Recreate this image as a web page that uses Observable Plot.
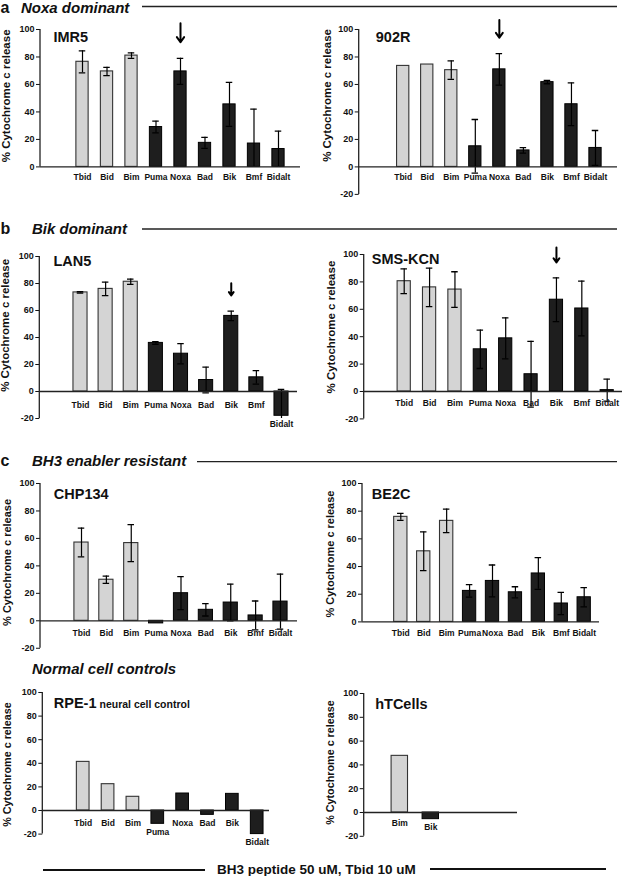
<!DOCTYPE html>
<html><head><meta charset="utf-8">
<script src="https://cdn.jsdelivr.net/npm/d3@7"></script>
<script src="https://cdn.jsdelivr.net/npm/@observablehq/plot@0.6"></script>
<style>
body{margin:0;background:#fff;}
#fig{position:relative;width:624px;height:876px;overflow:hidden;font-family:"Liberation Sans",Arial,sans-serif;color:#111;background:#fff;}
.panel{position:absolute;width:312px;}
#overlay{position:absolute;left:0;top:0;}
</style></head><body><div id="fig"></div>
<script>
// ---------------- data ----------------
const peptides = ["Tbid","Bid","Bim","Puma","Noxa","Bad","Bik","Bmf","Bidalt"];
const rpePeptides = ["Tbid","Bid","Bim","Puma","Noxa","Bad","Bik","Bidalt"];
const htPeptides = ["Bim","Bik"];
const lightPeptides = ["Tbid","Bid","Bim"];

const imr5Values = [76.5, 69.5, 81, 29, 69.5, 17.5, 45.5, 17, 13];
const imr5Errors = [8, 3, 2, 4.3, 9.5, 4, 16, 25, 13];
const r902Values = [73.5, 74.5, 70.4, 15, 71, 12, 61.7, 45.6, 13.8];
const r902Errors = [null, null, 6.7, 19.5, 11.5, 2, 1.2, 15.5, 12.7];
const lan5Values = [73.4, 76, 81.3, 36, 28, 8.5, 56, 10.5, -18];
const lan5Errors = [0.5, 5, 2, 1, 7.5, 9.5, 3.5, 5, 19.5];
const smsValues = [80.5, 76, 74.4, 30.8, 38.8, 12.6, 67, 60.6, 1];
const smsErrors = [9, 14, 13, 14, 15, 24, 16, 20, 8];
const chpValues = [57, 29.9, 56.6, -1.9, 20.1, 8, 13.3, 3.9, 14];
const chpErrors = [10.5, 2.7, 13.5, null, 12, 4.5, 13.4, 10.5, 20];
const be2cValues = [75.9, 51, 73, 22.4, 29.6, 21.4, 35, 13.3, 17.8];
const be2cErrors = [2.5, 14, 8.5, 4.5, 11.5, 4, 11.5, 8, 7];
const rpeValues = [41.2, 22.3, 11.6, -11.3, 14.4, -3.7, 14.1, -20];
const htValues = [47.6, -5.6];

const yTicks = [-20, 0, 20, 40, 60, 80, 100];
const yLabel = "% Cytochrome c release";

const sectionLetters = ["a", "b", "c", ""];
const sectionLabels = ["Noxa dominant", "Bik dominant", "BH3 enabler resistant", "Normal cell controls"];
const caption = "BH3 peptide 50 uM, Tbid 10 uM";

const panels = [
  {title: "IMR5", cats: peptides, values: imr5Values, errors: imr5Errors, arrow: "Noxa"},
  {title: "902R", cats: peptides, values: r902Values, errors: r902Errors, arrow: "Noxa"},
  {title: "LAN5", cats: peptides, values: lan5Values, errors: lan5Errors, arrow: "Bik"},
  {title: "SMS-KCN", cats: peptides, values: smsValues, errors: smsErrors, arrow: "Bik"},
  {title: "CHP134", cats: peptides, values: chpValues, errors: chpErrors, arrow: null},
  {title: "BE2C", cats: peptides, values: be2cValues, errors: be2cErrors, arrow: null},
  {title: "RPE-1", subtitle: "neural cell control", cats: rpePeptides, values: rpeValues, errors: null, arrow: null},
  {title: "hTCells", cats: htPeptides, values: htValues, errors: null, arrow: null}
];

// ---------------- layout (page pixels) ----------------
const layouts = [
  {left:0,   axisX:40,    axisEnd:300, y100:29.3,  y0:166.7, yMin:0,   c1:82,    cN:278,   frac:.5,  titleDx:13,   titleDy:8,   labelX:6,     labelAt:51.7, labelSize:11.5, tickDy:10,   arrowY:[104.5, 90.7]},
  {left:312, axisX:358.7, axisEnd:617, y100:29.3,  y0:166.7, yMin:-20, c1:402.7, cN:595,   frac:.51, titleDx:16.6, titleDy:8,   labelX:327,   labelAt:52,   labelSize:11.5, tickDy:10,   arrowY:[107, 94]},
  {left:0,   axisX:39.3,  axisEnd:297, y100:256,   y0:391,   yMin:-20, c1:80,    cN:281,   frac:.56, titleDx:13.7, titleDy:4.5, labelX:5,     labelAt:49,   labelSize:11.5, tickDy:13.5, arrowY:[80.2, 71.1]},
  {left:312, axisX:363.7, axisEnd:622, y100:254,   y0:391,   yMin:-20, c1:403.7, cN:606.7, frac:.52, titleDx:7.6,  titleDy:4.8, labelX:331,   labelAt:47,   labelSize:11.5, tickDy:11.7, arrowY:[105.1, 94.2]},
  {left:0,   axisX:40,    axisEnd:297, y100:482.7, y0:620,   yMin:-20, c1:81,    cN:280,   frac:.57, titleDx:13.3, titleDy:11,  labelX:6.7,   labelAt:42.5, labelSize:11,   tickDy:12.7},
  {left:312, axisX:362,   axisEnd:599, y100:483.3, y0:621.7, yMin:0,   c1:400.3, cN:583.7, frac:.58, titleDx:9.3,  titleDy:11,  labelX:330.3, labelAt:49,   labelSize:11,   tickDy:11},
  {left:0,   axisX:42.3,  axisEnd:269, y100:692.3, y0:810.3, yMin:-20, c1:82.7,  cN:256.7, frac:.51, titleDx:11,   titleDy:10.8, subDx:56.7, subDy:12, labelX:6.7, labelAt:39, labelSize:10.8, tickDy:12.4},
  {left:312, axisX:363.7, axisEnd:517, y100:693.3, y0:812.3, yMin:-20, c1:399.3, cN:430.3, frac:.53, titleDx:11,   titleDy:10.5, labelX:330.3, labelAt:42,  labelSize:10.8, tickDy:10.4}
];
const sectionLayouts = [
  {baseline:13,    textX:21, lineX:[142, 617], lineY:6.5},
  {baseline:234,   textX:32, lineX:[142, 617], lineY:229},
  {baseline:465.5, textX:32, lineX:[197, 617], lineY:461.7},
  {baseline:674,   textX:32, lineX:null}
];

const fig = document.getElementById("fig");
const MT = 24, MB = 24, W = 312;

function drawPanel(p, L) {
  const n = p.cats.length;
  const step = (L.cN - L.c1) / (n - 1);
  const px = (L.y0 - L.y100) / 100;
  const plotH = (100 - L.yMin) * px;
  const height = MT + plotH + MB;
  const ml = L.axisX - L.left;
  const mr = W - (L.axisEnd - L.left);
  const rows = p.cats.map((c, i) => ({cat: c, value: p.values[i], err: p.errors ? p.errors[i] : null, light: lightPeptides.includes(c)}));
  const withErr = rows.filter(d => d.err != null);
  const capInset = Math.max(0, (L.frac * step - 6.5) / 2);
  const pad = 1 - L.frac;
  const marks = [
    Plot.barY(rows.filter(d => d.light), {x: "cat", y: "value", fill: "#d4d4d4", stroke: "#333", strokeWidth: 1.1}),
    Plot.barY(rows.filter(d => !d.light), {x: "cat", y: "value", fill: "#1e1e1e", stroke: "#000", strokeWidth: 1}),
    Plot.ruleX(withErr, {x: "cat", y1: d => d.value - d.err, y2: d => d.value + d.err, stroke: "#000", strokeWidth: 1.2, clip: true}),
    Plot.tickY(withErr, {x: "cat", y: d => d.value + d.err, stroke: "#000", strokeWidth: 1.3, insetLeft: capInset, insetRight: capInset, clip: true}),
    Plot.tickY(withErr, {x: "cat", y: d => d.value - d.err, stroke: "#000", strokeWidth: 1.3, insetLeft: capInset, insetRight: capInset, clip: true}),
    Plot.ruleY([0], {stroke: "#222", strokeWidth: 1.3}),
    Plot.text(rows.filter(d => !(d.value < -5)), {x: "cat", y: () => 0, text: "cat", dy: L.tickDy, fontSize: 8.5, lineAnchor: "middle", fill: "#111"}),
    Plot.text(rows.filter(d => d.value < -5), {x: "cat", y: "value", text: "cat", dy: 8.5, fontSize: 8.5, lineAnchor: "middle", fill: "#111"}),
    Plot.text([p.title], {frameAnchor: "top-left", text: d => d, dx: L.titleDx, dy: L.titleDy, fontSize: 14.5, textAnchor: "start", lineAnchor: "middle", fill: "#111"}),
    Plot.text([L.labelAt], {y: d => d, frameAnchor: "left", text: () => yLabel, rotate: -90, dx: L.labelX - L.axisX, fontSize: L.labelSize, textAnchor: "middle", lineAnchor: "middle", fill: "#111"})
  ];
  if (p.subtitle) {
    marks.push(Plot.text([p.subtitle], {frameAnchor: "top-left", text: d => d, dx: L.subDx, dy: L.subDy, fontSize: 10.5, textAnchor: "start", lineAnchor: "middle", fill: "#111"}));
  }
  if (p.arrow) {
    marks.push(Plot.arrow([p.arrow], {x1: d => d, x2: d => d, y1: () => L.arrowY[0], y2: () => L.arrowY[1], stroke: "#000", strokeWidth: 2, headLength: 7, headAngle: 70}));
  }
  const chart = Plot.plot({
    width: W, height,
    marginLeft: ml, marginRight: mr, marginTop: MT, marginBottom: MB,
    style: {fontFamily: '"Liberation Sans", Arial, sans-serif', fontSize: "9px", fontWeight: "bold", color: "#111", background: "none", overflow: "visible"},
    x: {axis: null, domain: p.cats, range: [L.c1 - step / 2 - L.left, L.cN + step / 2 - L.left], paddingInner: pad, paddingOuter: pad / 2, round: false},
    y: {domain: [L.yMin, 100], ticks: yTicks.filter(t => t >= L.yMin), tickSize: 4, tickPadding: 2, tickFormat: d => String(d), label: null},
    marks
  });
  // vertical axis line along the y scale's range
  const ys = chart.scale("y");
  d3.select(chart).append("line")
    .attr("x1", ml).attr("x2", ml)
    .attr("y1", ys.range[0]).attr("y2", ys.range[1])
    .attr("stroke", "#222").attr("stroke-width", 1.3);
  const wrap = document.createElement("div");
  wrap.className = "panel";
  wrap.style.left = L.left + "px";
  wrap.style.top = (L.y100 - MT) + "px";
  wrap.appendChild(chart);
  fig.appendChild(wrap);
}

panels.forEach((p, i) => drawPanel(p, layouts[i]));

// ---------------- section headers and caption ----------------
const ov = d3.select(fig).append("svg").attr("id", "overlay").attr("width", 624).attr("height", 876)
  .style("font-family", '"Liberation Sans", Arial, sans-serif').style("pointer-events", "none");
sectionLabels.forEach((lab, i) => {
  const S = sectionLayouts[i];
  if (sectionLetters[i]) {
    ov.append("text").attr("x", 0.5).attr("y", S.baseline).attr("font-size", 16).attr("font-weight", "bold").attr("fill", "#111").text(sectionLetters[i]);
  }
  ov.append("text").attr("x", S.textX).attr("y", S.baseline).attr("font-size", 15).attr("font-weight", "bold").attr("font-style", "italic").attr("fill", "#111").text(lab);
  if (S.lineX) {
    ov.append("line").attr("x1", S.lineX[0]).attr("x2", S.lineX[1]).attr("y1", S.lineY).attr("y2", S.lineY).attr("stroke", "#222").attr("stroke-width", 1.3);
  }
});
ov.append("line").attr("x1", 43).attr("x2", 205).attr("y1", 870).attr("y2", 870).attr("stroke", "#111").attr("stroke-width", 2.2);
ov.append("line").attr("x1", 430).attr("x2", 606).attr("y1", 869).attr("y2", 869).attr("stroke", "#111").attr("stroke-width", 2.2);
ov.append("text").attr("x", 217).attr("y", 874).attr("font-size", 13.5).attr("font-weight", "bold").attr("fill", "#111").text(caption);
</script>
</body></html>
